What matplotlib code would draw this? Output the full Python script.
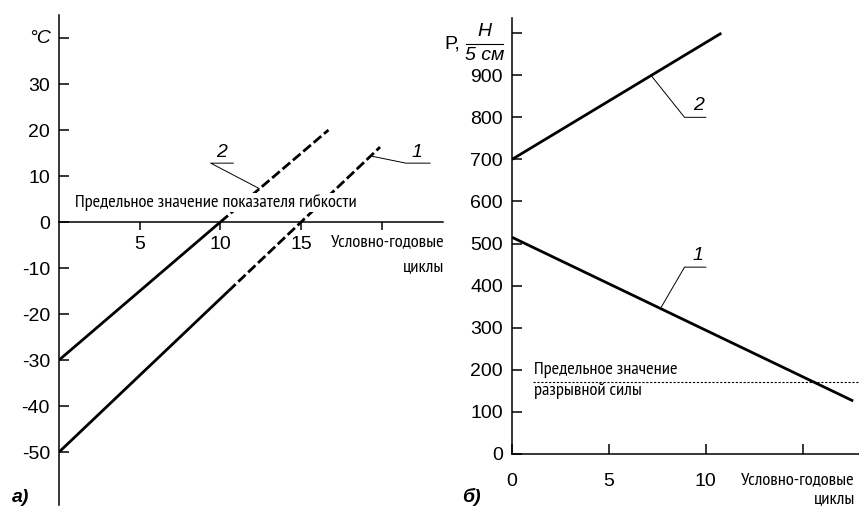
import matplotlib
matplotlib.use('Agg')
import matplotlib.pyplot as plt

plt.rcParams['font.family'] = ['Liberation Sans', 'DejaVu Sans']
narrow = ['PT Sans Narrow', 'Roboto Condensed', 'DejaVu Sans']

# --- данные, панель а) ---
temp_ticks = [-50, -40, -30, -20, -10, 0, 10, 20, 30]
cycle_ticks_a = [5, 10, 15]
# линия 2: сплошная до точки излома, дальше штрих
line2_x = [0, 10.0, 16.7]
line2_y = [-30, 0, 20]
# линия 1
line1_x = [0, 10.5, 19.9]
line1_y = [-50, -15, 16.3]

# --- данные, панель б) ---
force_ticks = [0, 100, 200, 300, 400, 500, 600, 700, 800, 900]
cycle_ticks_b = [0, 5, 10]
p1_x = [0, 17.6]
p1_y = [515, 126]
p2_x = [0, 10.8]
p2_y = [700, 1000]
p_limit = 172

W, H = 859, 512
fig = plt.figure(figsize=(W / 100, H / 100), dpi=100)


def fx(px):
    return px / W


def fy(py):
    return 1 - py / H


lw_main = 2.0
lw_axis = 1.1
tick_fs = 14
txt_fs = 13.3
dash = (3.6, 1.3)

# ================= панель а) =================
ax1 = fig.add_axes([fx(59), fy(505), fx(443) - fx(59), fy(15) - fy(505)])
ax1.set_xlim(0, 23.8)
ax1.set_ylim(-61.5, 45)
for s in ['top', 'right']:
    ax1.spines[s].set_visible(False)
ax1.spines['bottom'].set_position(('data', 0))
ax1.spines['left'].set_linewidth(lw_axis)
ax1.spines['bottom'].set_linewidth(lw_axis)

ax1.set_yticks(temp_ticks + [40])
ax1.set_yticklabels([str(v) for v in temp_ticks] + [''])
ax1.tick_params(axis='y', direction='in', length=7, width=lw_axis, pad=6.5,
                labelsize=tick_fs)
ax1.set_xticks(cycle_ticks_a + [20])
ax1.set_xticklabels([str(v) for v in cycle_ticks_a] + [''])
ax1.tick_params(axis='x', direction='out', length=6, width=lw_axis, pad=4,
                labelsize=tick_fs)

ax1.plot(line2_x[:2], line2_y[:2], color='black', lw=lw_main, solid_capstyle='butt')
ax1.plot(line2_x[1:], line2_y[1:], color='black', lw=lw_main, dashes=dash)
ax1.plot(line1_x[:2], line1_y[:2], color='black', lw=lw_main, solid_capstyle='butt')
ax1.plot(line1_x[1:], line1_y[1:], color='black', lw=lw_main, dashes=dash)

ax1.text(1.0, 4.3, 'Предельное значение показателя гибкости', family=narrow,
         fontsize=txt_fs, va='center', ha='left',
         bbox=dict(facecolor='white', edgecolor='none', pad=0.5))

# выноски
ax1.plot([12.4, 9.4, 10.8], [7.3, 12.8, 12.8], color='black', lw=0.7)
ax1.text(10.1, 13.3, '2', style='italic', fontsize=tick_fs, ha='center', va='bottom')
ax1.plot([19.4, 21.5, 23.0], [14.3, 12.8, 12.8], color='black', lw=0.7)
ax1.text(22.2, 13.3, '1', style='italic', fontsize=tick_fs, ha='center', va='bottom')

ax1.text(-0.5, 40, '°C', style='italic', fontsize=tick_fs, ha='right', va='center')
ax1.text(23.9, -4.3, 'Условно-годовые', family=narrow, fontsize=txt_fs,
         ha='right', va='center')
ax1.text(23.9, -9.8, 'циклы', family=narrow, fontsize=txt_fs,
         ha='right', va='center')

fig.text(fx(12), fy(497), 'а)', fontsize=14, style='italic', weight='bold',
         ha='left', va='center')

# ================= панель б) =================
ax2 = fig.add_axes([fx(512), fy(454), fx(859) - fx(512), fy(18) - fy(454)])
ax2.set_xlim(0, 17.9)
ax2.set_ylim(0, 1036)
for s in ['top', 'right']:
    ax2.spines[s].set_visible(False)
ax2.spines['left'].set_linewidth(lw_axis)
ax2.spines['bottom'].set_linewidth(lw_axis)

ax2.set_yticks(force_ticks + [1000])
ax2.set_yticklabels([str(v) for v in force_ticks] + [''])
ax2.tick_params(axis='y', direction='in', length=7, width=lw_axis, pad=6.5,
                labelsize=tick_fs)
ax2.set_xticks(cycle_ticks_b + [15])
ax2.set_xticklabels([str(v) for v in cycle_ticks_b] + [''])
ax2.tick_params(axis='x', direction='in', length=7, width=lw_axis, pad=14,
                labelsize=tick_fs)

ax2.plot(p2_x, p2_y, color='black', lw=lw_main, solid_capstyle='butt')
ax2.plot(p1_x, p1_y, color='black', lw=lw_main, solid_capstyle='butt')
ax2.axhline(p_limit, xmin=0.06, xmax=1, color='black', lw=0.8, ls=(0, (2, 1.5)))

ax2.text(1.15, 200, 'Предельное значение', family=narrow, fontsize=txt_fs,
         ha='left', va='center')
ax2.text(1.15, 150, 'разрывной силы', family=narrow, fontsize=txt_fs,
         ha='left', va='center')

# выноски
ax2.plot([7.2, 8.9, 10.0], [898, 800, 800], color='black', lw=0.7)
ax2.text(9.6, 808, '2', style='italic', fontsize=tick_fs, ha='center', va='bottom')
ax2.plot([7.7, 8.9, 10.0], [349, 444, 444], color='black', lw=0.7)
ax2.text(9.6, 452, '1', style='italic', fontsize=tick_fs, ha='center', va='bottom')

# подпись оси: P, H / 5 см
fig.text(fx(444), fy(44), 'P,', fontsize=tick_fs, ha='left', va='center')
fig.text(fx(484), fy(32), 'H', style='italic', fontsize=tick_fs, ha='center', va='center')
fig.add_artist(plt.Line2D([fx(466), fx(503)], [fy(44), fy(44)], color='black', lw=0.8))
fig.text(fx(485), fy(55), '5 см', style='italic', fontsize=tick_fs, ha='center', va='center')

fig.text(fx(855), fy(480), 'Условно-годовые', family=narrow, fontsize=txt_fs,
         ha='right', va='center')
fig.text(fx(855), fy(499), 'циклы', family=narrow, fontsize=txt_fs,
         ha='right', va='center')

fig.text(fx(462), fy(497), 'б)', fontsize=14, style='italic', weight='bold',
         ha='left', va='center')

fig.savefig('out.png', dpi=100)
